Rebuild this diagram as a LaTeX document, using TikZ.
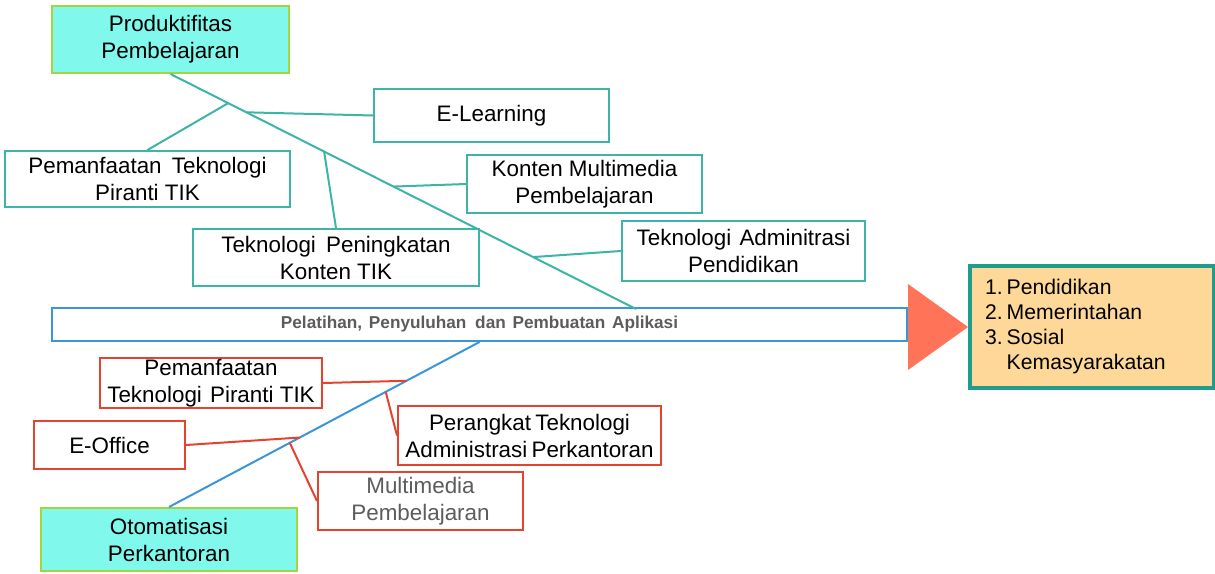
\documentclass[tikz,border=0pt]{standalone}
\usepackage{fontspec}
\setmainfont{Liberation Sans}
\usetikzlibrary{calc}
\definecolor{aqua}{HTML}{80F8EC}
\definecolor{lime}{HTML}{A2D53E}
\definecolor{sea}{HTML}{3CB4A6}
\definecolor{deepsea}{HTML}{1F9C8C}
\definecolor{sky}{HTML}{3A96D6}
\definecolor{brick}{HTML}{E5432E}
\definecolor{coral}{HTML}{FF7358}
\definecolor{sand}{HTML}{FDD898}
\definecolor{slate}{HTML}{5C5C5C}
\tikzset{
  box/.style={draw,line width=1pt,fill=white,align=center,inner sep=0pt,
    font=\fontsize{11.2}{13.5}\selectfont},
  goal/.style={box,draw=lime,fill=aqua},
  edu/.style={box,draw=sea},
  office/.style={box,draw=brick},
  eduline/.style={draw=sea,line width=1pt},
  officeline/.style={draw=brick,line width=1pt},
  spine/.style={draw=sky,line width=1pt}
}

\begin{document}
\begin{tikzpicture}[x=0.5pt,y=-0.5pt]
  \useasboundingbox (0,0) rectangle (1215,573);

  % goals
  \node[goal,minimum width=118.5pt,minimum height=33.5pt] (prod) at (170.5,39.5)
    {Produktifitas\\Pembelajaran};
  \node[goal,minimum width=128pt,minimum height=31.5pt] (oto) at (169,539.5)
    {Otomatisasi\\Perkantoran};

  % main bar
  \node[box,draw=sky,minimum width=427.5pt,minimum height=16.5pt,
    font=\fontsize{8.6}{10}\selectfont\bfseries,text=slate] (bar) at (479.5,324.5)
    {Pelatihan,\hspace{1pt} Penyuluhan\hspace{2pt} dan\hspace{1pt} Pembuatan\hspace{1pt} Aplikasi};

  % education side
  \node[edu,minimum width=117.5pt,minimum height=26.5pt] (elearn) at (491.5,115.5)
    {E-Learning};
  \node[edu,minimum width=142.5pt,minimum height=28pt] (pemedu) at (147.5,179)
    {Pemanfaatan\hspace{2pt} Teknologi\\Piranti TIK};
  \node[edu,minimum width=117.5pt,minimum height=29pt] (konten) at (584.5,184)
    {Konten Multimedia\\Pembelajaran};
  \node[edu,minimum width=143pt,minimum height=28.5pt] (tingkat) at (336,257.5)
    {Teknologi\hspace{2pt} Peningkatan\\Konten TIK};
  \node[edu,minimum width=121.5pt,minimum height=30pt] (admin) at (743.5,251)
    {Teknologi\hspace{1pt} Adminitrasi\\Pendidikan};

  % office side
  \node[office,minimum width=111pt,minimum height=25pt] (pemoff) at (211,383)
    {Pemanfaatan\\Teknologi\hspace{1pt} Piranti TIK};
  \node[office,minimum width=75.5pt,minimum height=24pt] (eoffice) at (109.5,445)
    {E-Office};
  \node[office,minimum width=131.5pt,minimum height=29.5pt] (perangkat) at (529.5,435.5)
    {Perangkat\hspace{-1pt} Teknologi\\Administrasi\hspace{-1pt} Perkantoran};
  \node[office,minimum width=102.5pt,minimum height=29pt,text=slate] (multi) at (420.5,501)
    {Multimedia\\Pembelajaran};

  % result
  \node[box,draw=deepsea,line width=1.8pt,fill=sand,minimum width=122pt,
    minimum height=61pt,align=left,text width=107pt,inner xsep=7.5pt,
    font=\fontsize{10.6}{12.5}\selectfont] (result) at (1092,327)
    {\begin{tabular}{@{}l@{\hspace{2pt}}l@{}}
      1. & Pendidikan\\
      2. & Memerintahan\\
      3. & Sosial\\
         & Kemasyarakatan
     \end{tabular}};
  \fill[coral] (908,284) -- (968,327) -- (908,370) -- cycle;

  % teal spine and branches
  \coordinate (tEnd) at (636,309);
  \draw[eduline] (prod.south) -- (tEnd);
  \draw[eduline] (pemedu.north) -- ($(prod.south)!0.124!(tEnd)$);
  \draw[eduline] ($(prod.south)!0.163!(tEnd)$) -- (elearn.west);
  \draw[eduline] (tingkat.north) -- ($(prod.south)!0.33!(tEnd)$);
  \draw[eduline] ($(prod.south)!0.479!(tEnd)$) -- (konten.west);
  \draw[eduline] ($(prod.south)!0.779!(tEnd)$) -- (admin.west);

  % blue spine and branches
  \draw[spine] (bar.south) -- (oto.north);
  \draw[officeline] (pemoff.east) -- ($(bar.south)!0.235!(oto.north)$);
  \draw[officeline] ($(bar.south)!0.302!(oto.north)$) -- (perangkat.west);
  \draw[officeline] (eoffice.east) -- ($(bar.south)!0.579!(oto.north)$);
  \draw[officeline] ($(bar.south)!0.611!(oto.north)$) -- (multi.west);
\end{tikzpicture}
\end{document}
